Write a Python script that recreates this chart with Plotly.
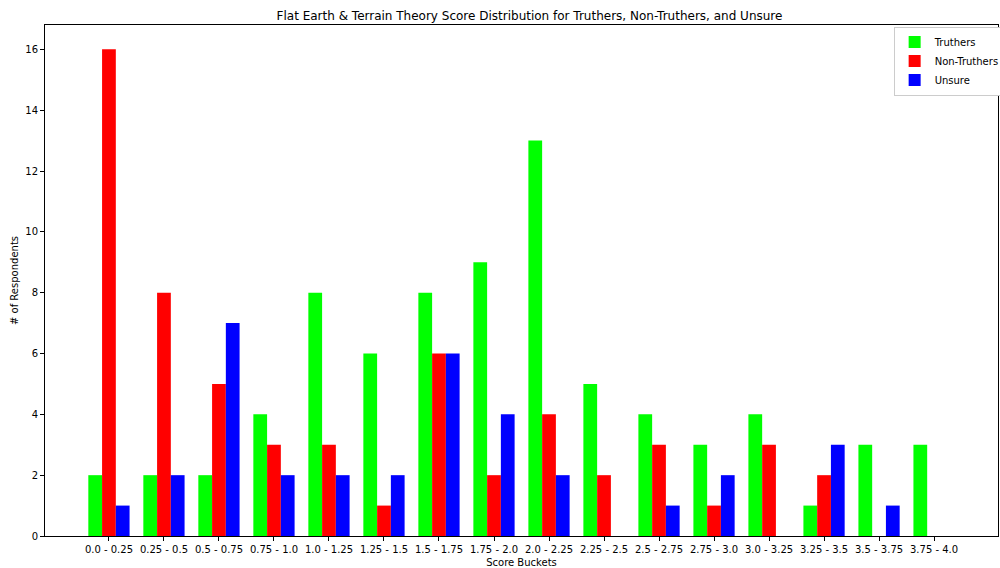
import plotly.graph_objects as go

# Score buckets and respondent counts per group
buckets = ["0.0 - 0.25", "0.25 - 0.5", "0.5 - 0.75", "0.75 - 1.0", "1.0 - 1.25",
           "1.25 - 1.5", "1.5 - 1.75", "1.75 - 2.0", "2.0 - 2.25", "2.25 - 2.5",
           "2.5 - 2.75", "2.75 - 3.0", "3.0 - 3.25", "3.25 - 3.5", "3.5 - 3.75",
           "3.75 - 4.0"]
truthers = [2, 2, 2, 4, 8, 6, 8, 9, 13, 5, 4, 3, 4, 1, 3, 3]
non_truthers = [16, 8, 5, 3, 3, 1, 6, 2, 4, 2, 3, 1, 3, 2, 0, 0]
unsure = [1, 2, 7, 2, 2, 2, 6, 4, 2, 0, 1, 2, 0, 3, 1, 0]

idx = list(range(len(buckets)))
bar_w = 0.25

fig = go.Figure()
for name, vals, color, shift in [("Truthers", truthers, "#00ff00", -bar_w),
                                 ("Non-Truthers", non_truthers, "#ff0000", 0),
                                 ("Unsure", unsure, "#0000ff", bar_w)]:
    fig.add_trace(go.Bar(
        x=[i + shift for i in idx],
        y=vals,
        width=bar_w,
        name=name,
        marker=dict(color=color, line=dict(width=0)),
    ))

fig.update_layout(
    width=1000, height=568,
    barmode="overlay",
    plot_bgcolor="white",
    paper_bgcolor="white",
    font=dict(family="DejaVu Sans", size=10, color="black"),
    title=dict(text="Flat Earth & Terrain Theory Score Distribution for Truthers, Non-Truthers, and Unsure",
               x=0.5295, xanchor="center", y=0.973, yanchor="middle",
               font=dict(size=12)),
    margin=dict(l=45, r=2, t=25, b=32, autoexpand=False),
    showlegend=True,
    legend=dict(x=0.8905, xanchor="left", y=0.997, yanchor="top",
                bgcolor="white", bordercolor="#cccccc", borderwidth=1,
                font=dict(size=10), tracegroupgap=0),
)
fig.update_xaxes(
    automargin=False,
    range=[-1.1625, 16.1625],
    tickmode="array", tickvals=idx, ticktext=buckets,
    tickfont=dict(size=10),
    ticks="outside", ticklen=4, tickcolor="black",
    showline=True, linecolor="black", linewidth=1, mirror=True,
    showgrid=False, zeroline=False,
    title=dict(text="Score Buckets", standoff=4, font=dict(size=10)),
)
fig.update_yaxes(
    automargin=False,
    range=[0, 16.8],
    tickmode="array", tickvals=list(range(0, 17, 2)),
    tickfont=dict(size=10),
    ticks="outside", ticklen=4, tickcolor="black",
    showline=True, linecolor="black", linewidth=1, mirror=True,
    showgrid=False, zeroline=False,
    title=dict(text="# of Respondents", standoff=4, font=dict(size=10)),
)

# drop the default page margin so the figure sits at the window's top-left
fig.write_html("out.html", config={"displayModeBar": False},
               post_script="document.body.style.margin='0';")
